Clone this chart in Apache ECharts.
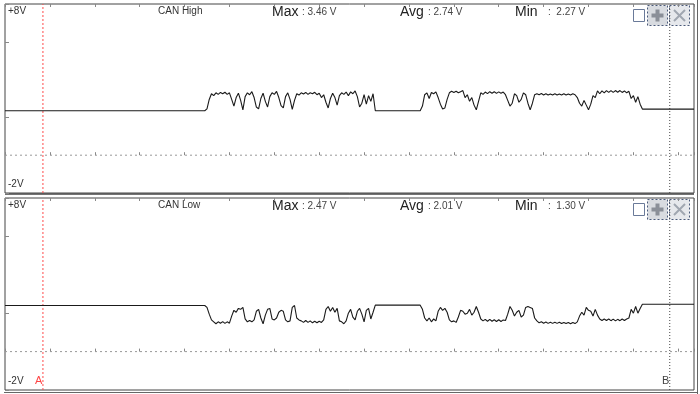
<!DOCTYPE html>
<html>
<head>
<meta charset="utf-8">
<script src="https://cdn.jsdelivr.net/npm/echarts@6/dist/echarts.min.js"></script>
<style>html,body{margin:0;padding:0;background:#fff;}#c{width:700px;height:394px;}</style>
</head>
<body>
<div id="c"></div>
<script>
// Time axis in sample units (1 division = 20 units)
const timeMax = 307;
const timeDiv = 20;
const burstStarts = [90, 186];
const cursorA = 16.9;
const cursorB = 296.2;

// Idle (recessive) levels: before burst 1, between bursts, after burst 2
const highIdle = [2.35, 2.35, 2.44];
const lowIdle = [2.40, 2.42, 2.47];

// CAN High burst samples (V), one per time unit
const highBurst1 = [2.45,2.95,3.25,3.15,3.30,3.22,3.32,3.25,3.33,3.22,3.30,2.95,2.60,3.05,3.28,2.90,2.40,3.10,3.30,3.20,
  3.36,3.05,2.55,2.45,3.00,3.28,2.85,2.55,3.10,3.30,3.22,3.38,3.05,2.62,2.50,3.10,3.30,2.95,2.42,2.90,
  3.25,3.18,3.30,3.24,3.32,3.22,3.30,3.25,3.33,3.20,3.28,3.05,3.20,2.80,2.50,3.00,3.28,3.05,2.65,3.15,
  3.30,3.22,3.34,3.15,3.35,3.25,3.40,3.10,2.55,2.75,3.20,2.70,3.15,2.85,3.25];
const highBurst2 = [2.60,3.20,3.30,3.00,3.32,3.25,3.35,3.05,2.70,2.45,2.50,2.95,3.30,3.38,3.32,3.38,3.30,3.36,3.42,3.05,
  3.20,2.85,3.05,2.65,2.40,2.85,3.30,3.22,3.34,3.26,3.36,3.28,3.36,3.27,3.35,3.28,3.34,3.20,2.90,2.60,
  2.75,3.25,3.15,2.80,2.95,3.30,3.20,2.75,2.40,2.75,3.20,3.25,3.20,3.26,3.19,3.25,3.18,3.24,3.19,3.25,
  3.18,3.24,3.19,3.25,3.18,3.24,3.19,3.25,3.20,3.05,2.75,2.60,2.90,2.65,2.40,2.70,3.15,3.05,3.40,3.25,
  3.40,3.30,3.42,3.32,3.42,3.32,3.42,3.33,3.42,3.32,3.40,3.30,3.38,3.00,3.15,2.80,3.10,2.70];

// CAN Low burst samples (V)
const lowBurst1 = [2.30,1.95,1.65,1.55,1.45,1.55,1.48,1.56,1.47,1.55,1.48,1.85,2.15,2.05,2.25,2.20,2.30,1.70,1.55,1.62,
  1.55,1.65,2.10,2.20,1.75,1.45,1.90,2.20,2.25,1.70,1.65,1.75,2.05,2.15,2.10,1.65,1.55,1.60,2.30,2.40,
  1.75,1.65,1.60,1.52,1.62,1.52,1.60,1.50,1.58,1.50,1.58,1.52,1.65,2.20,2.35,2.10,2.30,2.05,2.25,1.60,
  1.55,1.45,1.60,2.00,2.20,1.80,1.65,2.10,2.25,1.95,1.55,2.15,2.25,1.70,2.05];
const lowBurst2 = [2.20,1.75,1.60,1.75,1.55,1.70,1.60,2.10,2.30,2.15,2.25,2.05,1.65,1.55,1.60,1.52,1.80,2.15,2.10,1.95,
  2.00,2.20,1.90,2.05,2.35,2.05,1.70,1.60,1.68,1.58,1.68,1.58,1.66,1.57,1.66,1.57,1.65,1.62,1.95,2.35,
  2.15,1.85,2.05,2.15,1.80,1.90,2.30,2.35,2.30,2.25,1.75,1.60,1.50,1.55,1.48,1.54,1.47,1.53,1.47,1.53,
  1.47,1.53,1.46,1.52,1.46,1.52,1.45,1.52,1.46,1.55,1.85,2.05,1.90,2.30,2.15,2.10,1.85,2.20,1.90,1.70,
  1.62,1.70,1.62,1.70,1.61,1.69,1.60,1.68,1.61,1.70,1.62,1.70,1.75,2.20,2.00,2.35,2.00,2.25];

const panels = [
  {name: 'CAN High', max: '3.46 V', avg: '2.74 V', min: '2.27 V'},
  {name: 'CAN Low', max: '2.47 V', avg: '2.01 V', min: '1.30 V'}
];
const yTop = '+8V', yBottom = '-2V';
const yMin = -2, yMax = 8;

function buildTrace(idle, b1, b2) {
  const pts = [];
  pts.push([0, idle[0]]);
  pts.push([burstStarts[0] - 1, idle[0]]);
  b1.forEach((v, i) => pts.push([burstStarts[0] + i, v]));
  pts.push([burstStarts[0] + b1.length, idle[1]]);
  pts.push([burstStarts[1] - 1, idle[1]]);
  b2.forEach((v, i) => pts.push([burstStarts[1] + i, v]));
  pts.push([burstStarts[1] + b2.length, idle[2]]);
  pts.push([timeMax, idle[2]]);
  return pts;
}

const grids = [
  {left: 5, right: 6, top: 4, height: 189},
  {left: 5, right: 6, top: 198, height: 192}
];

const FONT = '"Liberation Sans", Arial, sans-serif';
const xAxes = [], yAxes = [];
grids.forEach((g, gi) => {
  ['bottom', 'top'].forEach(pos => {
    xAxes.push({
      gridIndex: gi, type: 'value', min: 0, max: timeMax, interval: timeDiv, position: pos,
      axisLine: {show: false}, axisLabel: {show: false}, splitLine: {show: false},
      axisTick: {show: true, inside: true, length: 3, lineStyle: {color: '#888'}}
    });
  });
  yAxes.push({
    gridIndex: gi, type: 'value', min: yMin, max: yMax, interval: 4,
    axisLine: {show: false}, axisLabel: {show: false}, splitLine: {show: false},
    axisTick: {show: true, inside: true, length: 4, lineStyle: {color: '#888'}}
  });
});

const series = [];
[[highIdle, highBurst1, highBurst2], [lowIdle, lowBurst1, lowBurst2]].forEach((d, gi) => {
  const xi = gi * 2;
  // zero reference line
  series.push({type: 'line', xAxisIndex: xi, yAxisIndex: gi, data: [[0, 0], [timeMax, 0]],
    showSymbol: false, silent: true, lineStyle: {color: '#999', type: [2, 3], width: 1}, animation: false, z: 1});
  // cursor A
  series.push({type: 'line', xAxisIndex: xi, yAxisIndex: gi, data: [[cursorA, yMin], [cursorA, yMax]],
    showSymbol: false, silent: true, lineStyle: {color: '#ff4a4a', type: [2, 2], width: 1}, animation: false, z: 1});
  // cursor B
  series.push({type: 'line', xAxisIndex: xi, yAxisIndex: gi, data: [[cursorB, yMin], [cursorB, yMax]],
    showSymbol: false, silent: true, lineStyle: {color: '#444', type: [1, 2], width: 1}, animation: false, z: 1});
  // signal
  series.push({type: 'line', xAxisIndex: xi, yAxisIndex: gi, data: buildTrace(d[0], d[1], d[2]),
    showSymbol: false, lineStyle: {color: '#1a1a1a', width: 1.1}, animation: false, z: 3});
});

const graphic = [];
function txt(x, y, s, size, color) {
  graphic.push({type: 'text', left: x, top: y, silent: true,
    style: {text: s, font: size + 'px ' + FONT, fill: color || '#333'}});
}
function buttons(y0) {
  graphic.push({type: 'rect', shape: {x: 633.5, y: y0 + 5.5, width: 11, height: 12},
    style: {fill: '#fff', stroke: '#6a7a99', lineWidth: 1}, silent: true});
  graphic.push({type: 'rect', shape: {x: 647.5, y: y0 + 1.5, width: 20, height: 20},
    style: {fill: '#d8dbe0', stroke: '#4a5a7a', lineWidth: 1, lineDash: [2, 2]}, silent: true});
  graphic.push({type: 'rect', shape: {x: 655.5, y: y0 + 5.5, width: 4, height: 12},
    style: {fill: '#8a8f98'}, silent: true});
  graphic.push({type: 'rect', shape: {x: 651.5, y: y0 + 9.5, width: 12, height: 4},
    style: {fill: '#8a8f98'}, silent: true});
  graphic.push({type: 'rect', shape: {x: 669.5, y: y0 + 1.5, width: 20, height: 20},
    style: {fill: '#e6e8ec', stroke: '#4a5a7a', lineWidth: 1, lineDash: [2, 2]}, silent: true});
  graphic.push({type: 'line', shape: {x1: 674, y1: y0 + 6, x2: 685, y2: y0 + 17},
    style: {stroke: '#a0a6b0', lineWidth: 2}, silent: true});
  graphic.push({type: 'line', shape: {x1: 685, y1: y0 + 6, x2: 674, y2: y0 + 17},
    style: {stroke: '#a0a6b0', lineWidth: 2}, silent: true});
}
panels.forEach((p, i) => {
  const g = grids[i];
  const y0 = g.top;
  txt(8, y0 + 2, yTop, 10, '#333');
  txt(8, y0 + g.height - 14, yBottom, 10, '#333');
  txt(158, y0 + 2, p.name, 10, '#333');
  txt(272, y0 + 1, 'Max', 14, '#222');
  txt(302, y0 + 3, ': ' + p.max, 10, '#444');
  txt(400, y0 + 1, 'Avg', 14, '#222');
  txt(428, y0 + 3, ': ' + p.avg, 10, '#444');
  txt(515, y0 + 1, 'Min', 14, '#222');
  txt(548, y0 + 3, ':  ' + p.min, 10, '#444');
  buttons(y0);
});
txt(35, 375, 'A', 11, '#f44');
txt(662, 375, 'B', 11, '#444');
graphic.push({type: 'line', shape: {x1: 697.5, y1: 0, x2: 697.5, y2: 394}, style: {stroke: '#666', lineWidth: 1}, silent: true});
graphic.push({type: 'line', shape: {x1: 4, y1: 392.5, x2: 698, y2: 392.5}, style: {stroke: '#666', lineWidth: 1}, silent: true});
graphic.push({type: 'line', shape: {x1: 5, y1: 194, x2: 694, y2: 194}, style: {stroke: '#444', lineWidth: 1.5}, silent: true});

const chart = echarts.init(document.getElementById('c'), null, {renderer: 'canvas'});
chart.setOption({
  animation: false,
  backgroundColor: '#fff',
  grid: grids.map(g => Object.assign({show: true, borderColor: '#444', borderWidth: 1, backgroundColor: 'transparent', containLabel: false}, g)),
  xAxis: xAxes,
  yAxis: yAxes,
  series: series,
  graphic: graphic
});
</script>
</body>
</html>
